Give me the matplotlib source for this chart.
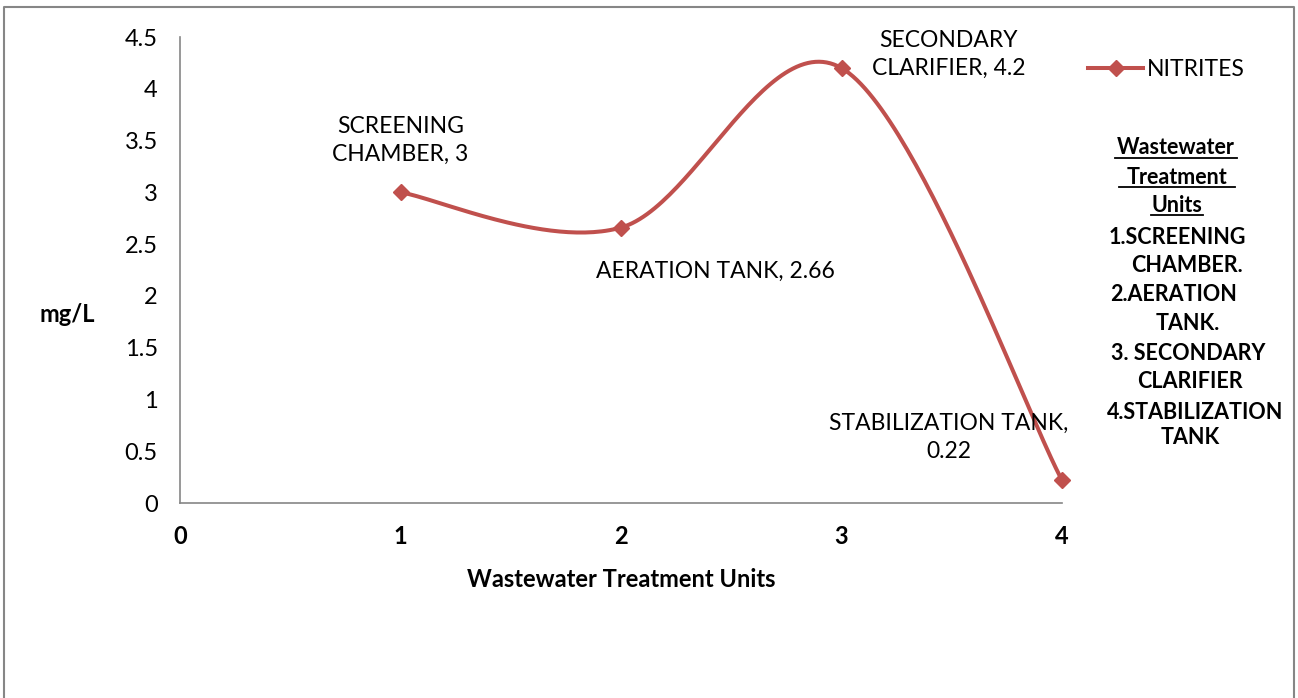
import numpy as np
import matplotlib
matplotlib.use("Agg")
import matplotlib.pyplot as plt
from matplotlib.lines import Line2D

plt.rcParams['font.family'] = ['Lato', 'DejaVu Sans']

units = [1, 2, 3, 4]
nitrites = [3.0, 2.66, 4.2, 0.22]
unit_names = ["SCREENING\nCHAMBER", "AERATION TANK", "SECONDARY\nCLARIFIER", "STABILIZATION TANK,\n"]
series_name = "NITRITES"
x_ticks = [0, 1, 2, 3, 4]
y_ticks = [0, 0.5, 1, 1.5, 2, 2.5, 3, 3.5, 4, 4.5]
side_lines = ["Wastewater", "Treatment", "Units", "1.SCREENING", "CHAMBER.",
              "2.AERATION", "TANK.", "3. SECONDARY", "CLARIFIER",
              "4.STABILIZATION", "TANK"]

W, H = 1298, 698
fig = plt.figure(figsize=(W / 100, H / 100), dpi=100)
ax = fig.add_axes([180 / W, 1 - 503 / H, (1062 - 180) / W, (503 - 37) / H])

color = '#C0504D'

# Excel-like smoothed line (cardinal/Catmull-Rom Bezier)
P = np.column_stack([units, nitrites]).astype(float)
n = len(P)
xs, ys = [], []
t = np.linspace(0, 1, 60)
for i in range(n - 1):
    p0 = P[i - 1] if i > 0 else P[i]
    p1 = P[i]
    p2 = P[i + 1]
    p3 = P[i + 2] if i + 2 < n else P[i + 1]
    c1 = p1 + (p2 - p0) / 6
    c2 = p2 - (p3 - p1) / 6
    b = ((1 - t) ** 3)[:, None] * p1 + (3 * (1 - t) ** 2 * t)[:, None] * c1 \
        + (3 * (1 - t) * t ** 2)[:, None] * c2 + (t ** 3)[:, None] * p2
    xs.extend(b[:, 0]); ys.extend(b[:, 1])
ax.plot(xs, ys, color=color, lw=2.9, solid_capstyle='round', zorder=3, clip_on=False)
ax.plot(units, nitrites, linestyle='none', marker='D', ms=8.5, color=color, zorder=4, clip_on=False)

ax.set_xlim(0, 4)
ax.set_ylim(0, 4.5)
ax.set_xticks(x_ticks)
ax.set_xticklabels([str(v) for v in x_ticks], fontweight='bold', fontsize=17)
ax.set_yticks(y_ticks)
ax.set_yticklabels([f"{v:g}" for v in y_ticks], fontsize=17)
ax.tick_params(axis='both', length=0)
ax.tick_params(axis='y', pad=16)
ax.tick_params(axis='x', pad=16)
for s in ['top', 'right']:
    ax.spines[s].set_visible(False)
for s in ['left', 'bottom']:
    ax.spines[s].set_color('#868686')
    ax.spines[s].set_linewidth(1.2)

ax.set_xlabel("Wastewater Treatment Units", fontweight='bold', fontsize=17, labelpad=14)
fig.text(67 / W, 1 - 314 / H, "mg/L", fontweight='bold', fontsize=17, ha='center', va='center')

# data labels
labels = [f"{unit_names[0]}, {nitrites[0]:g}",
          f"{unit_names[1]}, {nitrites[1]:g}",
          f"{unit_names[2]}, {nitrites[2]:g}",
          f"{unit_names[3]}{nitrites[3]:g}"]
offsets = [(0, 37.4), (67.7, -31.7), (77, 10), (-81.4, 31)]
for xv, yv, lab, off in zip(units, nitrites, labels, offsets):
    ax.annotate(lab, (xv, yv), xytext=off, textcoords='offset points',
                ha='center', va='center', fontsize=16.5, linespacing=1.42,
                annotation_clip=False)

# legend
handle = Line2D([0], [0], color=color, lw=2.9, marker='D', ms=8.5)
fig.legend([handle], [series_name], loc='center left',
           bbox_to_anchor=(1088 / W, 1 - 70 / H), frameon=False,
           fontsize=16.5, handlelength=2.4, handletextpad=0.15, borderpad=0,
           borderaxespad=0)

# side text box
centers = [(1176, 148), (1177, 177), (1177, 205), (1177, 237), (1187, 265),
           (1174, 295), (1188, 323), (1188, 353), (1190, 382), (1195, 412),
           (1190, 438)]
for txt, (cx, cy) in zip(side_lines, centers):
    fig.text(cx / W, 1 - cy / H, txt, fontweight='bold', fontsize=15.5,
             ha='center', va='center')
for (x0, x1, yy) in [(1115, 1237, 158), (1119, 1235, 187), (1151, 1203, 215)]:
    fig.add_artist(Line2D([x0 / W, x1 / W], [1 - yy / H, 1 - yy / H],
                          color='black', lw=1.3, transform=fig.transFigure))

# chart border (bottom edge off-canvas)
bx = [4 / W, 4 / W, 1294 / W, 1294 / W]
by = [-0.1, 1 - 7 / H, 1 - 7 / H, -0.1]
fig.add_artist(Line2D(bx, by, color='#868686', lw=1.5, transform=fig.transFigure))

fig.savefig("out.png", dpi=100)
